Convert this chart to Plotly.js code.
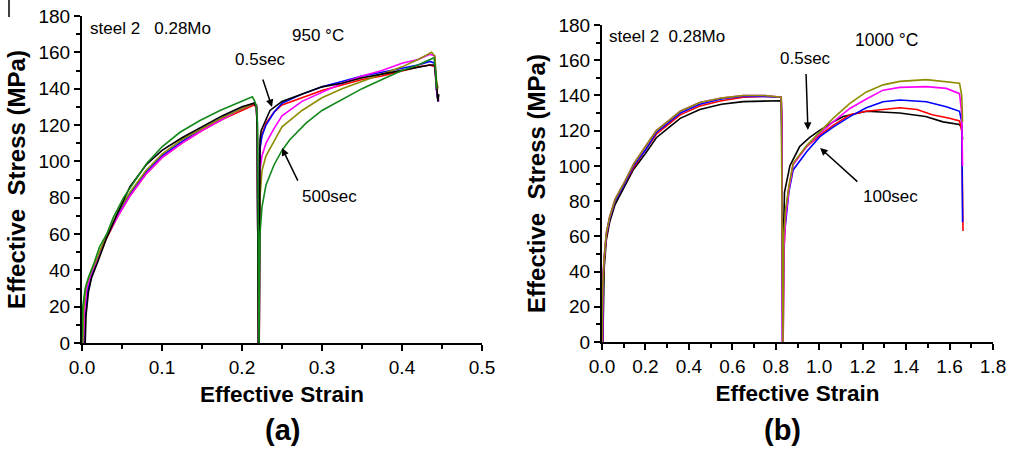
<!DOCTYPE html>
<html>
<head>
<meta charset="utf-8">
<script src="https://cdn.plot.ly/plotly-3.0.1.min.js"></script>
<style>html,body{margin:0;padding:0;background:#fff;}#chart{width:1013px;height:449px;}</style>
</head>
<body>
<div id="chart"></div>
<script>
// ---------- Panel (a): 950 °C ----------
const aBlackStrain = [0.004,0.005,0.008,0.012,0.02,0.03,0.045,0.06,0.08,0.1,0.125,0.15,0.175,0.2,0.215,0.218,0.219,0.2205,0.2215,0.222,0.2225,0.224,0.228,0.235,0.25,0.275,0.3,0.325,0.35,0.375,0.4,0.42,0.435,0.441,0.443,0.445,0.446];
const aBlackStress = [0,15,28,36,45,57,72,86,98,106,113,119,125,130,132,130,118,0,0,60,112,117,121,128,133,137,141,143,146,148,150,152,153,153,140,133,137];

const aRedStrain = [0.003,0.004,0.007,0.012,0.02,0.03,0.045,0.06,0.08,0.1,0.125,0.15,0.175,0.2,0.215,0.218,0.219,0.2205,0.2215,0.2218,0.222,0.2225,0.225,0.23,0.24,0.25,0.275,0.3,0.325,0.35,0.375,0.4,0.42,0.435,0.441,0.443,0.445];
const aRedStress = [0,12,28,37,46,57,70,81,93,102,110,117,123,128,131,130,118,0,0,45,90,108,115,121,127,131,135,139,142,145,147,150,152,153,152,140,133];

const aBlueStrain = [0.003,0.004,0.007,0.012,0.02,0.03,0.045,0.06,0.08,0.1,0.125,0.15,0.175,0.2,0.215,0.218,0.219,0.2205,0.2215,0.2218,0.222,0.2225,0.225,0.23,0.24,0.25,0.275,0.3,0.325,0.35,0.375,0.4,0.42,0.435,0.441,0.443,0.445];
const aBlueStress = [0,14,29,38,47,58,71,82,94,103,111,118,124,129,132,131,119,0,0,50,100,107,114,120,127,132,137,141,144,147,149,151,153,155,154,140,133];

const aMagentaStrain = [0.002,0.003,0.006,0.012,0.02,0.03,0.045,0.06,0.08,0.1,0.125,0.15,0.175,0.2,0.215,0.218,0.219,0.2205,0.2215,0.2218,0.222,0.2225,0.225,0.23,0.24,0.25,0.275,0.3,0.325,0.35,0.375,0.4,0.42,0.435,0.441,0.443,0.446];
const aMagentaStress = [0,15,30,39,47,58,70,81,93,102,110,117,123,129,132,131,119,0,0,40,80,95,103,110,118,125,133,138,143,147,150,154,156,159,158,140,133];

const aOliveStrain = [0.001,0.002,0.005,0.01,0.02,0.03,0.045,0.06,0.08,0.1,0.125,0.15,0.175,0.2,0.215,0.218,0.219,0.2205,0.2215,0.2218,0.222,0.2225,0.225,0.23,0.24,0.25,0.275,0.3,0.325,0.35,0.375,0.4,0.42,0.437,0.441,0.443,0.445];
const aOliveStress = [0,18,31,38,48,59,72,83,95,104,112,118,124,129,132,131,120,0,0,35,60,80,95,103,111,119,128,135,140,144,148,152,156,160,158,145,140];

const aGreenStrain = [0,0.001,0.004,0.008,0.015,0.022,0.031,0.039,0.052,0.064,0.081,0.1,0.1225,0.1475,0.1725,0.1975,0.213,0.216,0.218,0.2195,0.2205,0.2212,0.2218,0.2225,0.225,0.23,0.24,0.25,0.26,0.28,0.3,0.325,0.35,0.375,0.4,0.42,0.435,0.44,0.442,0.443];
const aGreenStress = [0,20,30,36,44,53,60,69,80,88,99,108,116,122.5,128,132.7,135.5,133,130,120,0,0,40,60,75,87,98,106,112,121,128,134,140,145,150,153,156,157,150,140];

// ---------- Panel (b): 1000 °C ----------
const bBlackStrain = [0.004,0.006,0.01,0.02,0.035,0.06,0.1,0.145,0.2,0.25,0.3,0.36,0.45,0.55,0.65,0.75,0.825,0.828,0.83,0.833,0.836,0.84,0.865,0.91,0.955,1.0,1.065,1.11,1.217,1.37,1.49,1.57,1.645,1.655,1.66];
const bBlackStress = [0,30,42,58,68,78,87,98,107,116,121,127,132,135,136.5,137,137,120,20,0,60,85,100,111,116,120,125,128,131,130,128,125,123.5,122,115];

const bRedStrain = [0.003,0.005,0.01,0.02,0.035,0.06,0.1,0.145,0.2,0.25,0.3,0.36,0.45,0.55,0.65,0.75,0.825,0.828,0.831,0.834,0.837,0.845,0.86,0.88,0.942,1.003,1.064,1.141,1.217,1.371,1.45,1.52,1.6,1.646,1.656,1.662];
const bRedStress = [0,35,46,60,70,80,89,99,109,118,123,129,134,137,139,139.5,139,125,0,0,50,72,88,101,111,117.5,123,129,131,133,132,129,127,125.5,120,63];

const bBlueStrain = [0.003,0.005,0.01,0.02,0.035,0.06,0.1,0.145,0.2,0.25,0.3,0.36,0.45,0.55,0.65,0.75,0.825,0.828,0.831,0.834,0.836,0.845,0.86,0.88,0.942,1.003,1.064,1.141,1.217,1.294,1.371,1.493,1.585,1.646,1.656,1.66];
const bBlueStress = [0,36,47,61,70,80,89,100,109,119,124,130,135,138,139.5,139.5,139,110,0,0,57,68,85,97.7,108,116.6,122,128,133,136.4,137.4,136.4,133.6,131,125,68];

const bMagentaStrain = [0.002,0.004,0.01,0.02,0.035,0.06,0.1,0.145,0.2,0.25,0.3,0.36,0.45,0.55,0.65,0.75,0.825,0.828,0.831,0.834,0.837,0.845,0.86,0.88,0.942,1.003,1.064,1.141,1.217,1.294,1.371,1.493,1.585,1.646,1.656,1.66];
const bMagentaStress = [0,38,48,62,71,81,90,101,111,120,125,131,136,138.5,140,140,139,120,0,0,50,70,86,100.6,111,118.5,125,132.6,138,143,144.6,145,144,141,130,100];

const bOliveStrain = [0,0.003,0.01,0.02,0.035,0.06,0.1,0.145,0.2,0.25,0.3,0.36,0.45,0.55,0.65,0.75,0.825,0.828,0.83,0.833,0.836,0.845,0.86,0.88,0.942,1.003,1.064,1.141,1.217,1.294,1.371,1.493,1.585,1.646,1.656,1.66];
const bOliveStress = [0,30,48,62,71,81,90,101,111,120,125,131,136,138.5,140,140,139,85,0,0,60,75,88,101.5,111.5,119.5,127,135.5,142,146,148,149,148,147,140,125];

// ---------- Labels ----------
const xTitle = 'Effective Strain';
const yTitle = 'Effective  Stress (MPa)';
const panelLabels = ['(a)', '(b)'];
const steelLabel = ['steel 2&nbsp;&nbsp;&nbsp;0.28Mo', 'steel 2&nbsp;&nbsp;0.28Mo'];
const tempLabel = ['950 \u00B0C', '1000 \u00B0C'];
const timeLabelsA = ['0.5sec', '500sec'];
const timeLabelsB = ['0.5sec', '100sec'];

const colors = {black:'#000000', red:'#ff0000', blue:'#0000ff', magenta:'#ff00ff', olive:'#8c8c00', green:'#12871a'};

function tr(x, y, c, xa, ya) {
  return {x:x, y:y, type:'scatter', mode:'lines', xaxis:xa, yaxis:ya,
          line:{color:c, width:1.6}, showlegend:false, hoverinfo:'skip'};
}

const data = [
  tr(aRedStrain, aRedStress, colors.red, 'x', 'y'),
  tr(aBlueStrain, aBlueStress, colors.blue, 'x', 'y'),
  tr(aMagentaStrain, aMagentaStress, colors.magenta, 'x', 'y'),
  tr(aOliveStrain, aOliveStress, colors.olive, 'x', 'y'),
  tr(aBlackStrain, aBlackStress, colors.black, 'x', 'y'),
  tr(aGreenStrain, aGreenStress, colors.green, 'x', 'y'),
  tr(bBlackStrain, bBlackStress, colors.black, 'x2', 'y2'),
  tr(bRedStrain, bRedStress, colors.red, 'x2', 'y2'),
  tr(bBlueStrain, bBlueStress, colors.blue, 'x2', 'y2'),
  tr(bMagentaStrain, bMagentaStress, colors.magenta, 'x2', 'y2'),
  tr(bOliveStrain, bOliveStress, colors.olive, 'x2', 'y2')
];

const FONT = 'Arial, "Liberation Sans", sans-serif';

function xax(domain, range, dtick, minor, anchor) {
  return {domain:domain, range:range, dtick:dtick, tick0:0, tickformat:'.1f', anchor:anchor,
    showline:true, linecolor:'#000', linewidth:2, ticks:'outside', ticklen:6, tickwidth:2, tickcolor:'#000',
    minor:{dtick:minor, ticks:'outside', ticklen:4, tickwidth:2, tickcolor:'#000'},
    showgrid:false, zeroline:false, fixedrange:true,
    tickfont:{family:FONT, size:19, color:'#000'},
    title:{text:'<b>'+xTitle+'</b>', font:{family:FONT, size:22.5, color:'#000'}, standoff:9}};
}
function yax(domain, anchor) {
  return {domain:domain, range:[0,180], dtick:20, tick0:0, anchor:anchor,
    showline:true, linecolor:'#000', linewidth:2, ticks:'outside', ticklen:6, tickwidth:2, tickcolor:'#000',
    minor:{dtick:10, ticks:'outside', ticklen:4, tickwidth:2, tickcolor:'#000'},
    showgrid:false, zeroline:false, fixedrange:true,
    tickfont:{family:FONT, size:19, color:'#000'},
    title:{text:'<b>'+yTitle+'</b>', font:{family:FONT, size:24, color:'#000'}, standoff:6}};
}

function txt(x, y, t, xr, yr, size) {
  return {x:x, y:y, xref:xr, yref:yr, text:t, showarrow:false, xanchor:'left', yanchor:'middle',
          font:{family:FONT, size:size||17, color:'#000'}};
}
// text with an arrow: (x,y) is the arrow tip; ax, ay are pixel offsets of the tail,
// the text box is anchored at the tail by xa / ya
function lab(x, y, t, ax, ay, xa, ya, xr, yr, ss) {
  return {x:x, y:y, xref:xr, yref:yr, text:t, showarrow:true, ax:ax, ay:ay,
          xanchor:xa, yanchor:ya, startstandoff:ss||0,
          arrowhead:2, arrowsize:1, arrowwidth:1.5, arrowcolor:'#000',
          font:{family:FONT, size:17, color:'#000'}};
}

const annotations = [
  txt(0.0075, 172.9, steelLabel[0], 'x', 'y', 17),
  txt(0.26, 169.5, tempLabel[0], 'x', 'y', 17),
  lab(0.2375, 129.9, timeLabelsA[0], -12, -36, 'center', 'bottom', 'x', 'y', 9),
  lab(0.25, 107.3, timeLabelsA[1], 18, 37, 'left', 'top', 'x', 'y', 5),
  txt(0.023, 173.2, steelLabel[1], 'x2', 'y2', 17),
  txt(1.156, 171.5, tempLabel[1], 'x2', 'y2', 17.5),
  lab(0.948, 120.4, timeLabelsB[0], -2, -60, 'center', 'bottom', 'x2', 'y2', 4),
  lab(1.004, 110.2, timeLabelsB[1], 41, 37, 'left', 'top', 'x2', 'y2', 5),
  {x:282/1013, y:1-430/449, xref:'paper', yref:'paper', text:'<b>'+panelLabels[0]+'</b>', showarrow:false,
   xanchor:'center', yanchor:'middle', font:{family:FONT, size:29, color:'#000'}},
  {x:782/1013, y:1-430/449, xref:'paper', yref:'paper', text:'<b>'+panelLabels[1]+'</b>', showarrow:false,
   xanchor:'center', yanchor:'middle', font:{family:FONT, size:29, color:'#000'}}
];

const layout = {
  width:1013, height:449, margin:{l:0, r:0, t:0, b:0},
  paper_bgcolor:'#fff', plot_bgcolor:'#fff',
  font:{family:FONT, color:'#000'},
  xaxis: xax([82/1013, 482/1013], [0,0.5], 0.1, 0.05, 'y'),
  yaxis: yax([(449-343)/449, (449-16)/449], 'x'),
  xaxis2: xax([602/1013, 993/1013], [0,1.8], 0.2, 0.1, 'y2'),
  yaxis2: yax([(449-342)/449, (449-25)/449], 'x2'),
  annotations: annotations,
  shapes:[{type:'line', xref:'paper', yref:'paper', x0:9/1013, x1:9/1013, y0:1, y1:1-17/449,
           line:{color:'#000', width:1.5}}]
};

Plotly.newPlot('chart', data, layout, {staticPlot:true, displayModeBar:false});
</script>
</body>
</html>
